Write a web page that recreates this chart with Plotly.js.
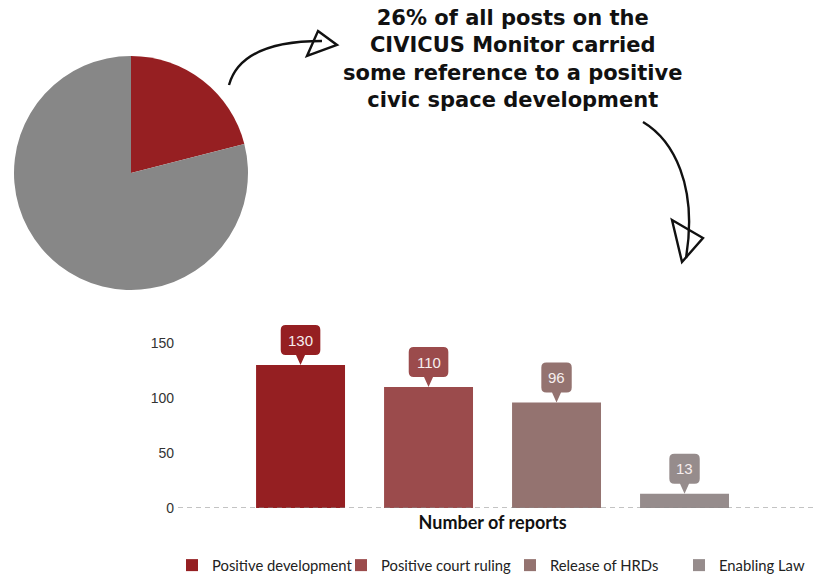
<!DOCTYPE html>
<html>
<head>
<meta charset="utf-8">
<script src="https://cdn.plot.ly/plotly-3.0.1.min.js"></script>
<style>html,body{margin:0;padding:0;background:#fff;}#chart{width:816px;height:575px;}</style>
</head>
<body>
<div id="chart"></div>
<script>
// ---- data ----
const pieLabels = ['Positive development posts', 'Other posts'];
const pieValues = [21, 79];
const pieColors = ['#961f22', '#878787'];

const category = 'Number of reports';
const seriesNames = ['Positive development', 'Positive court ruling', 'Release of HRDs', 'Enabling Law'];
const seriesValues = [130, 110, 96, 13];
const seriesColors = ['#951f22', '#9b4b4c', '#947370', '#968c8c'];

const titleLines = ['26% of all posts on the', 'CIVICUS Monitor carried', 'some reference to a positive', 'civic space development'];
const yTicks = [0, 50, 100, 150];

// ---- layout constants ----
const W = 816, H = 575;
const legendTop = 549;            // legend (container-anchored) reserves the strip below this
const plotH = legendTop;          // height of the plotting area in pixels
const plotLeft = 178, zeroPx = 508, pxPerUnit = 1.1, yMax = 170;
const plotW = W - plotLeft;
const bargap = 0.1975, bargroupgap = 0.305;
const xr0 = -0.493, xr1 = 0.507;
const slotPx = (1 - bargap) * plotW / (xr1 - xr0) / seriesNames.length;

const px = x => x / W;
const py = y => 1 - y / plotH;

const traces = [];
traces.push({
  type: 'pie', labels: pieLabels, values: pieValues, sort: false,
  direction: 'clockwise', rotation: 0,
  marker: {colors: pieColors, line: {width: 0}},
  textinfo: 'none', hoverinfo: 'skip', showlegend: false,
  domain: {x: [px(14), px(248)], y: [py(290), py(56)]}
});
seriesNames.forEach((n, i) => {
  traces.push({
    type: 'bar', name: n, x: [category], y: [seriesValues[i]],
    marker: {color: seriesColors[i], line: {width: 0}},
    hoverinfo: 'skip'
  });
});

const shapes = [];
// dashed baseline
shapes.push({type: 'line', xref: 'paper', yref: 'y', x0: px(plotLeft), x1: 1, y0: 0, y1: 0,
  line: {color: '#888', width: 1.2, dash: '5px,4px'}, layer: 'above'});

const annotations = [];
const pH = 10, bH = 30, r = 5, pw = 4.5;
seriesValues.forEach((v, i) => {
  const cx = (i - (seriesValues.length - 1) / 2) * slotPx;
  const w = 12 + 9.2 * String(v).length;
  const L = cx - w / 2, R = cx + w / 2, B = pH, T = pH + bH;
  const path = `M${cx},0 L${cx - pw},${B} L${L + r},${B} Q${L},${B} ${L},${B + r} L${L},${T - r} Q${L},${T} ${L + r},${T} ` +
    `L${R - r},${T} Q${R},${T} ${R},${T - r} L${R},${B + r} Q${R},${B} ${R - r},${B} L${cx + pw},${B} Z`;
  shapes.push({type: 'path', xref: 'x', yref: 'y', xsizemode: 'pixel', ysizemode: 'pixel',
    xanchor: category, yanchor: v, path: path,
    fillcolor: seriesColors[i], line: {width: 0}, layer: 'above'});
  annotations.push({xref: 'x', yref: 'y', x: category, y: v, xshift: cx, yshift: pH + bH / 2,
    text: String(v), showarrow: false, xanchor: 'center', yanchor: 'middle',
    font: {family: 'Liberation Sans, Arial, sans-serif', size: 15, color: '#f6eeee'}});
});

// hand-drawn arrows
const P = (x, y) => `${px(x)},${py(y)}`;
shapes.push({type: 'path', xref: 'paper', yref: 'paper',
  path: `M${P(229, 85)} C${P(236, 60)} ${P(262, 41)} ${P(322, 41)}`,
  line: {color: '#111', width: 2.4}, layer: 'above'});
shapes.push({type: 'path', xref: 'paper', yref: 'paper',
  path: `M${P(318, 31)} L${P(337, 45)} L${P(307, 56)} Z`,
  line: {color: '#111', width: 2.4}, fillcolor: 'rgba(0,0,0,0)', layer: 'above'});
shapes.push({type: 'path', xref: 'paper', yref: 'paper',
  path: `M${P(643, 122)} C${P(673, 140)} ${P(698, 185)} ${P(686, 258)}`,
  line: {color: '#111', width: 2.4}, layer: 'above'});
shapes.push({type: 'path', xref: 'paper', yref: 'paper',
  path: `M${P(672, 220)} L${P(703, 238)} L${P(682, 262)} Z`,
  line: {color: '#111', width: 2.4}, fillcolor: 'rgba(0,0,0,0)', layer: 'above'});

// title
annotations.push({xref: 'paper', yref: 'paper', x: px(512), y: py(59),
  xanchor: 'center', yanchor: 'middle', showarrow: false, align: 'center',
  text: titleLines.join('<br>'),
  font: {family: 'DejaVu Sans, sans-serif', size: 21, weight: 'bold', color: '#111'}});

const layout = {
  width: W, height: H,
  margin: {l: 0, r: 0, t: 0, b: 0},
  paper_bgcolor: '#fff', plot_bgcolor: 'rgba(0,0,0,0)',
  barmode: 'group', bargap: bargap, bargroupgap: bargroupgap,
  hovermode: false,
  xaxis: {domain: [px(plotLeft), 1], type: 'category', range: [xr0, xr1],
    showgrid: false, zeroline: false, showline: false, ticks: '', automargin: false,
    ticklabelstandoff: 2,
    tickfont: {family: 'Lato, sans-serif', size: 18, weight: 'bold', color: '#111'}},
  yaxis: {domain: [py(zeroPx), py(zeroPx - yMax * pxPerUnit)], range: [0, yMax],
    tickvals: yTicks, ticktext: yTicks.map(String),
    showgrid: false, zeroline: false, showline: false, ticks: '', automargin: false,
    ticklabelstandoff: 3,
    tickfont: {family: 'Liberation Sans, Arial, sans-serif', size: 14, color: '#333'}},
  legend: {orientation: 'h', xref: 'container', yref: 'container',
    x: 172 / W, xanchor: 'left', y: 1 - legendTop / H, yanchor: 'top',
    entrywidth: 124, entrywidthmode: 'pixels',
    font: {family: 'Lato, sans-serif', size: 14.8, color: '#222'}, itemwidth: 30,
    traceorder: 'normal', bgcolor: 'rgba(0,0,0,0)'},
  shapes: shapes, annotations: annotations
};

Plotly.newPlot('chart', traces, layout, {staticPlot: true, displayModeBar: false});
</script>
</body>
</html>
